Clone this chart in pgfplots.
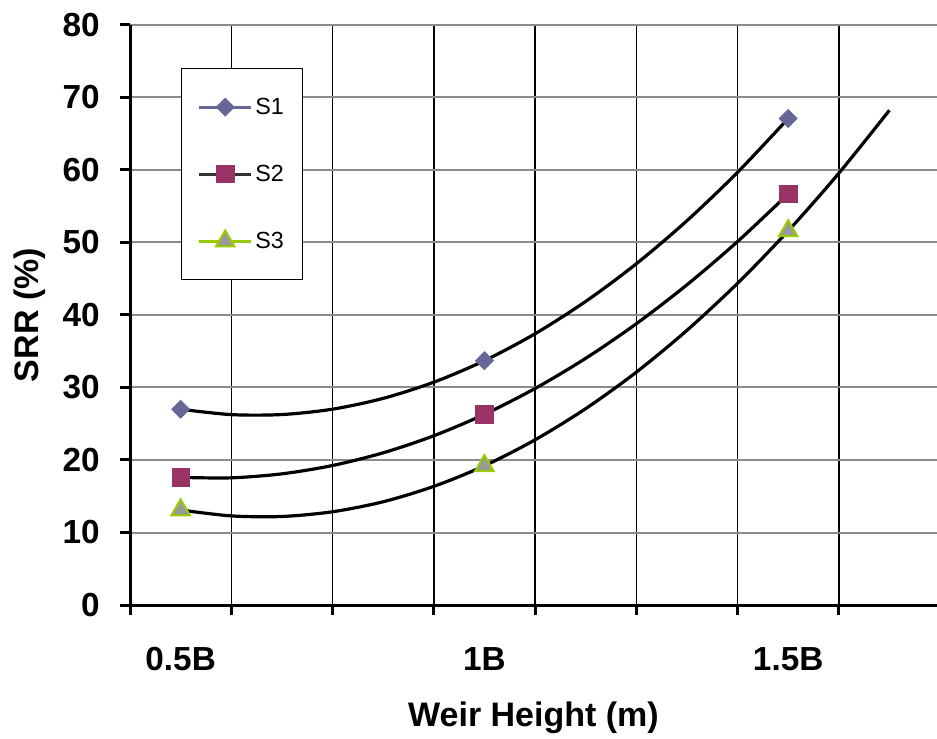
\documentclass[border=0pt]{standalone}
\usepackage{pgfplots}
\pgfplotsset{compat=1.18}
\usepackage{fontspec}
\setmainfont{Liberation Sans}
\definecolor{sA}{HTML}{666699}
\definecolor{sB}{HTML}{993366}
\definecolor{sC}{HTML}{99CC00}
\definecolor{triFill}{HTML}{999999}
\definecolor{gridgray}{HTML}{8C8C8C}
\begin{document}
\begin{tikzpicture}
\useasboundingbox (0,0) rectangle (702.75pt,553.5pt);
\begin{axis}[
  at={(97.5pt,99.75pt)}, anchor=south west,
  scale only axis, width=605.25pt, height=435pt,
  xmin=0, xmax=7.97, ymin=0, ymax=80,
  axis x line*=bottom, axis y line*=left,
  axis line style={line width=2.25pt, -},
  xtick={0,...,7}, xticklabels={},
  extra x ticks={0.5,3.5,6.5},
  extra x tick labels={0.5B,1B,1.5B},
  extra x tick style={major tick length=0pt, grid=none,
    xticklabel style={inner sep=0pt, anchor=north, yshift=-31.5pt}},
  ytick={0,10,...,80},
  yticklabel style={inner sep=0pt, anchor=east, xshift=-15pt},
  tick align=outside, major tick length=7.5pt,
  tick style={line width=2.25pt, black},
  xmajorgrids, ymajorgrids,
  x grid style={black, line width=1.1pt},
  y grid style={gridgray, line width=1.5pt},
  ticklabel style={font=\fontsize{25}{30}\selectfont\bfseries},
  /pgf/number format/assume math mode=true,
  xlabel={Weir Height (m)}, ylabel={SRR (\%)},
  label style={font=\fontsize{25.5}{30}\selectfont\bfseries},
  xlabel style={at={(axis description cs:0.5,-0.195)}, anchor=center},
  ylabel style={at={(axis description cs:-0.124,0.5)}, anchor=center},
  legend style={at={(rel axis cs:0.0632,0.926)}, anchor=north west,
    draw=black, line width=1.1pt, fill=white,
    inner xsep=12pt, inner ysep=20pt, row sep=32.5pt,
    font=\fontsize{17.5}{19}\selectfont,
    legend cell align=left},
  legend image code/.code={%
    \draw[mark repeat=2,mark phase=2,#1] plot coordinates {(3pt,0pt) (22.5pt,0pt) (42pt,0pt)};},
]
% legend entries
\addlegendimage{sA, line width=2.2pt, mark=square*, mark size=4.8pt, mark options={rotate=45, fill=sA, draw=sA, line width=0.5pt}}
\addlegendentry{S1}
\addlegendimage{black!80, line width=2.2pt, mark=square*, mark size=6.5pt, mark options={fill=sB, draw=sB, line width=0.5pt}}
\addlegendentry{S2}
\addlegendimage{sC, line width=2.2pt, mark=triangle*, mark size=8pt, mark options={fill=triFill, draw=sC, line width=1.5pt}}
\addlegendentry{S3}
% markers
\addplot[only marks, mark=square*, mark size=4.8pt, mark options={rotate=45, fill=sA, draw=sA, line width=0.5pt}, forget plot]
  coordinates {(0.5,27.0) (3.5,33.7) (6.5,67.1)};
\addplot[only marks, mark=square*, mark size=6.5pt, mark options={fill=sB, draw=sB, line width=0.5pt}, forget plot]
  coordinates {(0.5,17.6) (3.5,26.3) (6.5,56.7)};
\addplot[only marks, mark=triangle*, mark size=8pt, mark options={fill=triFill, draw=sC, line width=1.5pt}, forget plot]
  coordinates {(0.5,13.1) (3.5,19.2) (6.5,51.6)};
% trend lines
\addplot[black, line width=2.4pt, smooth, no marks, forget plot] coordinates {
  (0.5,27.00) (1.0,26.26) (1.5,26.27) (2.0,27.01) (2.5,28.50) (3.0,30.73)
  (3.5,33.70) (4.0,37.41) (4.5,41.87) (5.0,47.06) (5.5,53.00) (6.0,59.68) (6.5,67.10)};
\addplot[black, line width=2.4pt, smooth, no marks, forget plot] coordinates {
  (0.5,17.60) (1.0,17.54) (1.5,18.09) (2.0,19.24) (2.5,20.99) (3.0,23.34)
  (3.5,26.30) (4.0,29.86) (4.5,34.02) (5.0,38.79) (5.5,44.16) (6.0,50.13) (6.5,56.70)};
\addplot[black, line width=2.4pt, smooth, no marks, forget plot] coordinates {
  (0.5,13.10) (1.0,12.29) (1.5,12.21) (2.0,12.86) (2.5,14.24) (3.0,16.36)
  (3.5,19.20) (4.0,22.78) (4.5,27.08) (5.0,32.11) (5.5,37.88) (6.0,44.37) (6.5,51.60)
  (7.0,59.55) (7.5,68.24)};
\end{axis}
\end{tikzpicture}
\end{document}
